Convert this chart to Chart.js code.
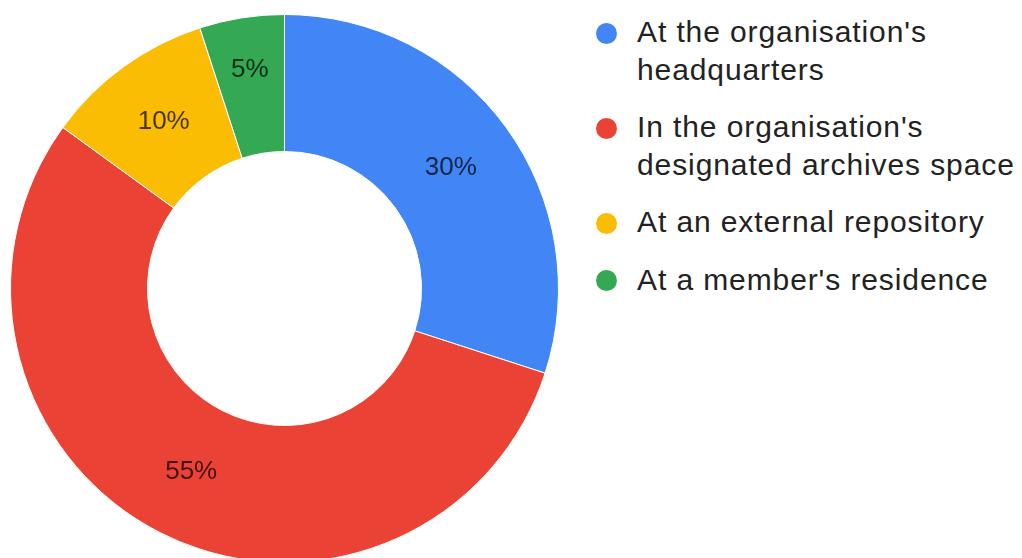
<!DOCTYPE html>
<html>
<head>
<meta charset="utf-8">
<script src="https://cdn.jsdelivr.net/npm/chart.js@4/dist/chart.umd.min.js"></script>
<style>
    html, body { margin: 0; padding: 0; background: #fff; overflow: hidden; }
    body { width: 1022px; height: 558px; position: relative; font-family: "Liberation Sans", Arial, sans-serif; }
    #chartBox { position: absolute; left: 10px; top: 14px; width: 549px; height: 549px; }
    #legend { position: absolute; left: 596px; top: 13px; margin: 0; padding: 0; list-style: none; }
    #legend li { position: relative; padding-left: 41px; margin-bottom: 20px; font-size: 30px; letter-spacing: 0.9px; line-height: 37.5px; color: #222; white-space: nowrap; }
    #legend .dot { position: absolute; left: 0; top: 9.5px; width: 21px; height: 21px; border-radius: 50%; }
</style>
</head>
<body>
<div id="chartBox"><canvas id="storageChart"></canvas></div>
<ul id="legend"></ul>
<script>
// Where the archives are kept (share of answers, %)
const categories = [
    ["At the organisation's", "headquarters"],
    ["In the organisation's", "designated archives space"],
    ["At an external repository"],
    ["At a member's residence"]
];
const shares = [30, 55, 10, 5];
const sliceColors = ['#4285F4', '#EA4335', '#FBBC04', '#34A853'];

/**
 * Draw "NN%" inside each slice, at the middle of the ring
 */
const sliceLabels = {
    id: 'sliceLabels',
    afterDatasetsDraw(chart) {
        const ctx = chart.ctx;
        const meta = chart.getDatasetMeta(0);
        const total = shares.reduce((a, b) => a + b, 0);
        ctx.save();
        ctx.font = '26px "Liberation Sans", Arial, sans-serif';
        ctx.fillStyle = 'rgba(0, 0, 0, 0.72)';
        ctx.textAlign = 'center';
        ctx.textBaseline = 'middle';
        meta.data.forEach((arc, i) => {
            const p = arc.getProps(['x', 'y', 'startAngle', 'endAngle', 'innerRadius', 'outerRadius'], true);
            const mid = (p.startAngle + p.endAngle) / 2;
            let r = (p.innerRadius + p.outerRadius) / 2;
            // narrow slices: push the text a bit outward, like the original
            if (p.endAngle - p.startAngle < 0.4) r += 16;
            const pct = Math.round(shares[i] / total * 100) + '%';
            ctx.fillText(pct, p.x + Math.cos(mid) * r, p.y + Math.sin(mid) * r);
        });
        ctx.restore();
    }
};

new Chart(document.getElementById('storageChart'), {
    type: 'doughnut',
    data: {
        labels: categories,
        datasets: [{
            data: shares,
            backgroundColor: sliceColors,
            borderColor: '#ffffff',
            borderWidth: 1
        }]
    },
    options: {
        responsive: true,
        maintainAspectRatio: false,
        animation: false,
        cutout: '50%',
        layout: { padding: 0 },
        plugins: {
            legend: { display: false },
            tooltip: { enabled: false }
        }
    },
    plugins: [sliceLabels]
});

// HTML legend, built from the same arrays
const legendEl = document.getElementById('legend');
categories.forEach((lines, i) => {
    const li = document.createElement('li');
    const dot = document.createElement('span');
    dot.className = 'dot';
    dot.style.background = sliceColors[i];
    li.appendChild(dot);
    lines.forEach((line, j) => {
        if (j > 0) li.appendChild(document.createElement('br'));
        li.appendChild(document.createTextNode(line));
    });
    legendEl.appendChild(li);
});
</script>
</body>
</html>
